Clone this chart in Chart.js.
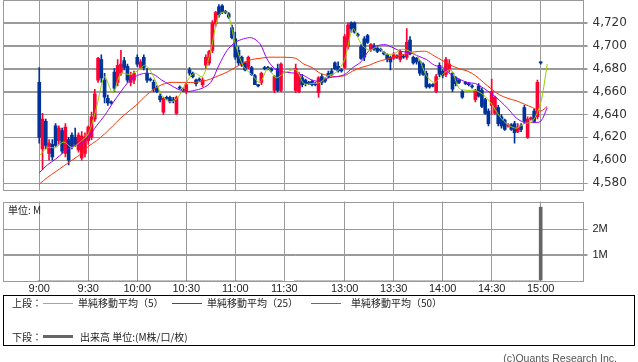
<!DOCTYPE html>
<html><head><meta charset="utf-8">
<script src="https://cdn.jsdelivr.net/npm/chart.js@4"></script>
<style>
body{margin:0;background:#fff;width:638px;height:362px;position:relative;overflow:hidden;font-family:"Noto Sans CJK JP",sans-serif;color:#222}
canvas{position:absolute;left:0}
.t{position:absolute;font-size:10px;line-height:12px;white-space:nowrap}
.ln{position:absolute;height:1px;width:30px}
#legend{position:absolute;left:3px;top:295px;width:632px;height:51px;border:1px solid #000;box-sizing:border-box}
</style></head><body>
<canvas id="pc" width="638" height="192" style="top:0"></canvas>
<canvas id="vc" width="638" height="104" style="top:196px"></canvas>
<div class="t" style="left:8px;top:204px">単位: M</div>
<div id="legend"></div>
<div class="t" style="left:12px;top:297px">上段：</div>
<div class="ln" style="left:43px;top:303px;background:#99cc00"></div>
<div class="t" style="left:78px;top:297px">単純移動平均（5）</div>
<div class="ln" style="left:172px;top:303px;background:#9900ff"></div>
<div class="t" style="left:207px;top:297px">単純移動平均（25）</div>
<div class="ln" style="left:311px;top:303px;background:#ff3300"></div>
<div class="t" style="left:351px;top:297px">単純移動平均（50）</div>
<div class="t" style="left:12px;top:331px">下段：</div>
<div class="ln" style="left:43px;top:335px;height:3px;background:#666"></div>
<div class="t" style="left:80px;top:331px">出来高 単位:(M株/口/枚)</div>
<div class="t" style="right:21px;top:352px;color:#555;font-family:'Liberation Sans';font-size:10.5px">(c)Quants Research Inc.</div>
<script>
// time axis: minutes from 9:00, lunch break squeezed
const timeLabels = ['9:00','9:30','10:00','10:30','11:00','11:30','13:00','13:30','14:00','14:30','15:00'];
const timeSlots = [0, 30, 60, 90, 120, 150, 187, 217, 247, 277, 307];
const priceTicks = [4580, 4600, 4620, 4640, 4660, 4680, 4700, 4720];
const volTicks = [1, 2];

// 2-minute candles (morning 75, afternoon 76)
const open = [4668,4610,4634,4606,4614,4630,4617,4626,4606,4618,4622,4620,4609,4602,4606,4617,4620,4636,4670,4688,
  4670,4654,4651,4677,4668,4676,4687,4682,4668,4670,4690,4681,4690,4676,4671,4668,4663,4656,4642,4655,
  4655,4653,4641,4664,4662,4660,4679,4676,4670,4671,4666,4683,4685,4696,4719,4734,4735,4730,4728,4716,
  4706,4696,4690,4685,4681,4681,4674,4666,4668,4681,4681,4680,4661,4680,4661,
  4661,4660,4672,4670,4668,4669,4667,4659,4673,4671,4676,4678,4685,4682,4679,4681,4699,4720,4720,4710,
  4699,4706,4709,4697,4700,4698,4697,4694,4692,4690,4689,4691,4688,4691,4690,4705,4690,4689,4686,4684,
  4676,4666,4666,4660,4683,4678,4675,4679,4676,4672,4670,4660,4668,4667,4665,4653,4665,4661,4653,4643,
  4648,4641,4646,4638,4635,4630,4631,4632,4625,4630,4646,4620,4636,4643,4638,4686];
const high = [4681,4641,4636,4618,4618,4632,4630,4628,4632,4620,4624,4628,4624,4625,4624,4630,4642,4662,4690,4692,
  4676,4657,4652,4680,4688,4696,4690,4684,4677,4678,4692,4688,4692,4680,4672,4670,4665,4658,4655,4656,
  4656,4655,4656,4665,4663,4668,4681,4677,4671,4672,4672,4692,4696,4722,4730,4736,4736,4731,4729,4718,
  4712,4699,4691,4686,4691,4682,4675,4666,4677,4682,4682,4681,4674,4684,4685,
  4684,4677,4675,4671,4669,4670,4668,4673,4675,4672,4678,4680,4686,4686,4680,4710,4720,4721,4721,4711,
  4701,4708,4710,4702,4702,4700,4698,4695,4693,4691,4694,4692,4697,4692,4715,4708,4691,4690,4687,4685,
  4678,4667,4667,4675,4685,4679,4690,4688,4677,4673,4671,4661,4669,4668,4666,4662,4667,4663,4654,4645,
  4671,4656,4648,4640,4636,4632,4632,4634,4632,4632,4648,4638,4638,4645,4670,4686];
const low = [4615,4592,4610,4600,4600,4612,4614,4606,4603,4596,4610,4612,4607,4600,4603,4614,4618,4634,4668,4668,
  4650,4648,4649,4660,4665,4674,4679,4668,4665,4667,4682,4680,4679,4668,4669,4660,4659,4651,4640,4653,
  4650,4650,4640,4662,4660,4658,4674,4672,4665,4669,4664,4680,4683,4694,4717,4725,4728,4728,4724,4706,
  4688,4683,4682,4678,4680,4674,4666,4664,4666,4679,4679,4677,4659,4660,4660,
  4659,4659,4664,4665,4666,4665,4665,4655,4666,4668,4672,4674,4679,4677,4677,4680,4697,4712,4711,4708,
  4688,4687,4702,4695,4696,4694,4695,4692,4686,4679,4688,4689,4686,4689,4688,4692,4684,4684,4674,4674,
  4663,4663,4664,4659,4673,4672,4673,4677,4660,4665,4667,4654,4666,4665,4663,4651,4655,4646,4640,4630,
  4640,4640,4630,4628,4626,4629,4626,4615,4624,4625,4632,4619,4635,4633,4636,4684];
const close = [4620,4636,4613,4615,4603,4613,4628,4608,4629,4600,4612,4614,4622,4621,4620,4629,4638,4658,4689,4672,
  4655,4650,4650,4663,4683,4684,4681,4670,4674,4676,4684,4686,4681,4670,4670,4662,4660,4653,4654,4654,
  4651,4652,4655,4663,4661,4666,4676,4673,4667,4670,4670,4690,4695,4720,4729,4727,4730,4729,4725,4707,
  4690,4685,4683,4679,4690,4675,4666,4665,4676,4680,4680,4678,4673,4661,4684,
  4680,4675,4666,4667,4667,4666,4666,4672,4668,4669,4673,4675,4680,4678,4678,4708,4718,4715,4712,4709,
  4689,4690,4703,4701,4697,4695,4696,4693,4688,4686,4692,4690,4695,4690,4703,4693,4685,4686,4676,4675,
  4664,4664,4665,4673,4675,4674,4688,4684,4662,4667,4668,4655,4667,4666,4664,4661,4656,4647,4641,4632,
  4660,4655,4632,4630,4627,4631,4627,4624,4629,4627,4634,4636,4637,4634,4668,4685];
// volume, millions
const volume = [0.01,0.01,0.01,0.01,0.01,0.01,0.01,0.01,0.01,0.01,0.01,0.01,0.01,0.01,0.01,0.01,0.01,0.01,0.01,0.01,
  0.01,0.01,0.01,0.01,0.01,0.01,0.01,0.01,0.01,0.01,0.01,0.01,0.01,0.01,0.01,0.01,0.01,0.01,0.01,0.01,
  0.01,0.01,0.01,0.01,0.01,0.01,0.01,0.01,0.01,0.01,0.01,0.01,0.01,0.01,0.01,0.01,0.01,0.01,0.01,0.01,
  0.01,0.01,0.01,0.01,0.01,0.01,0.01,0.01,0.01,0.01,0.01,0.01,0.01,0.01,0.01,
  0.01,0.01,0.01,0.01,0.01,0.01,0.01,0.01,0.01,0.01,0.01,0.01,0.01,0.01,0.01,0.01,0.01,0.01,0.01,0.01,
  0.01,0.01,0.01,0.01,0.01,0.01,0.01,0.01,0.01,0.01,0.01,0.01,0.01,0.01,0.01,0.01,0.01,0.01,0.01,0.01,
  0.01,0.01,0.01,0.01,0.01,0.01,0.01,0.01,0.01,0.01,0.01,0.01,0.01,0.01,0.01,0.01,0.01,0.01,0.01,0.01,
  0.01,0.01,0.01,0.01,0.01,0.01,0.01,0.01,0.01,0.01,0.01,0.01,0.01,0.01,0.01,2.86];

// moving averages, sampled every 5 minutes
const maSlots = [0,5,10,15,20,25,30,35,40,45,50,55,60,65,70,75,80,85,90,95,100,105,110,115,120,125,130,135,140,145,150,
  157,162,167,172,177,182,187,192,197,202,207,212,217,222,227,232,237,242,247,252,257,262,267,272,277,282,287,292,297,302,307,311];
const ma5 = [4604,4611,4611,4616,4611,4616,4623,4646,4673,4659,4676,4675,4678,4683,4673,4657,4651,4655,4668,4676,4673,4696,4727,4729,4702,4682,4675,4668,4680,4672,4676,
  4679,4667,4667,4668,4674,4677,4688,4715,4702,4696,4699,4693,4693,4697,4695,4690,4674,4668,4675,4679,4663,4661,4661,4657,4649,4638,4631,4628,4632,4634,4650,4684];
const ma25 = [4589,4596,4601,4607,4612,4614,4620,4630,4639,4650,4660,4669,4674,4676,4675,4670,4666,4662,4660,4661,4663,4668,4683,4696,4703,4706,4707,4702,4687,4679,4677,
  4676,4674,4670,4669,4672,4673,4675,4681,4686,4696,4700,4701,4698,4695,4694,4691,4688,4683,4681,4675,4671,4668,4667,4663,4658,4652,4645,4637,4633,4633,4634,4646];
const ma50 = [4579,4585,4590,4595,4600,4605,4612,4617,4623,4630,4637,4643,4649,4656,4662,4666,4668,4668,4668,4668,4669,4671,4674,4677,4681,4685,4688,4689,4690,4690,4690,
  4689,4684,4681,4676,4674,4673,4674,4678,4681,4683,4686,4688,4690,4692,4694,4695,4695,4691,4687,4683,4680,4678,4674,4668,4662,4657,4654,4652,4649,4646,4643,4647];

const slots = [];
for (let i = 0; i < 75; i++) slots.push(i * 2);
for (let i = 0; i < 76; i++) slots.push(157 + i * 2);

const UP = '#ff0033', DOWN = '#003399', GRID = '#9a9a9a';
const candleColors = open.map((o, i) => close[i] >= o ? UP : DOWN);
const X_MIN = -22.2, X_MAX = 332.6;

// plot frame plus horizontal grid lines with their outer tick marks
const frame = {
  id: 'frame',
  beforeDatasetsDraw(chart) {
    const {ctx, chartArea: a, scales: {y}} = chart;
    ctx.save();
    ctx.strokeStyle = GRID;
    ctx.lineWidth = 1;
    ctx.beginPath();
    y.ticks.forEach(t => {
      const py = Math.round(y.getPixelForValue(t.value)) + 0.5;
      ctx.moveTo(a.left, py);
      ctx.lineTo(a.right + 5, py);
    });
    ctx.stroke();
    ctx.strokeRect(Math.round(a.left) + 0.5, Math.round(a.top) + 0.5, Math.round(a.right - a.left), Math.round(a.bottom - a.top));
    ctx.restore();
  }
};
// time labels under the volume panel, placed by the x scale
const timeAxis = {
  id: 'timeAxis',
  afterDraw(chart) {
    const {ctx, chartArea: a, scales: {x}} = chart;
    ctx.save();
    ctx.fillStyle = '#222';
    ctx.font = '11px "Liberation Sans"';
    ctx.textAlign = 'center';
    ctx.textBaseline = 'middle';
    x.ticks.forEach(t => {
      ctx.fillText(timeLabels[timeSlots.indexOf(t.value)], x.getPixelForValue(t.value), a.bottom + 8);
    });
    ctx.restore();
  }
};
const noPad = s => { s.paddingTop = 0; s.paddingBottom = 0; s.paddingLeft = 0; s.paddingRight = 0; };

const line = (data, color, order) => ({
  type: 'line', data: maSlots.map((s, i) => ({x: s, y: data[i]})),
  borderColor: color, borderWidth: 1, pointRadius: 0, tension: 0.3, order
});

new Chart(document.getElementById('pc'), {
  type: 'bar',
  data: {
    datasets: [
      {data: slots.map((s, i) => ({x: s, y: [low[i], high[i]]})), backgroundColor: candleColors, barThickness: 1, grouped: false, order: 10},
      {data: slots.map((s, i) => ({x: s, y: [open[i], close[i]]})), backgroundColor: candleColors, barThickness: 3, grouped: false, order: 9},
      line(ma50, '#ff3300', 2),
      line(ma25, '#9900ff', 1),
      line(ma5, '#99cc00', 0)
    ]
  },
  options: {
    responsive: false, animation: false,
    layout: {padding: {left: 3, top: 0, right: 0, bottom: 2}},
    plugins: {legend: {display: false}, tooltip: {enabled: false}},
    scales: {
      x: {
        type: 'linear', min: X_MIN, max: X_MAX, offset: false,
        grid: {color: GRID, offset: false, drawTicks: false},
        border: {display: false}, ticks: {display: false},
        afterBuildTicks: s => { s.ticks = timeSlots.map(v => ({value: v})); },
        afterFit: s => { s.height = 0; noPad(s); }
      },
      y: {
        position: 'right', min: 4574, max: 4740,
        grid: {color: GRID, tickLength: 5},
        border: {display: false},
        ticks: {padding: 5, color: '#333',
          font: {family: 'DejaVu Sans', size: 12},
          callback: v => v.toLocaleString('en-US')},
        afterBuildTicks: s => { s.ticks = priceTicks.map(v => ({value: v})); },
        afterFit: s => { s.width = 55.5; noPad(s); }
      }
    }
  },
  plugins: [frame]
});

new Chart(document.getElementById('vc'), {
  type: 'bar',
  data: {
    datasets: [{data: slots.map((s, i) => ({x: s, y: volume[i]})), backgroundColor: '#666', barThickness: 3}]
  },
  options: {
    responsive: false, animation: false,
    layout: {padding: {left: 3, top: 5.5, right: 0, bottom: 19.5}},
    plugins: {legend: {display: false}, tooltip: {enabled: false}},
    scales: {
      x: {
        type: 'linear', min: X_MIN, max: X_MAX, offset: false,
        grid: {color: GRID, offset: false, drawTicks: false},
        border: {display: false}, ticks: {display: false},
        afterBuildTicks: s => { s.ticks = timeSlots.map(v => ({value: v})); },
        afterFit: s => { s.height = 0; noPad(s); }
      },
      y: {
        position: 'right', min: 0, max: 3.08,
        grid: {color: GRID, tickLength: 5},
        border: {display: false},
        ticks: {padding: 5, color: '#222', font: {family: 'Liberation Sans', size: 11},
          callback: v => v + 'M'},
        afterBuildTicks: s => { s.ticks = volTicks.map(v => ({value: v})); },
        afterFit: s => { s.width = 55.5; noPad(s); }
      }
    }
  },
  plugins: [frame, timeAxis]
});
</script>
</body></html>
